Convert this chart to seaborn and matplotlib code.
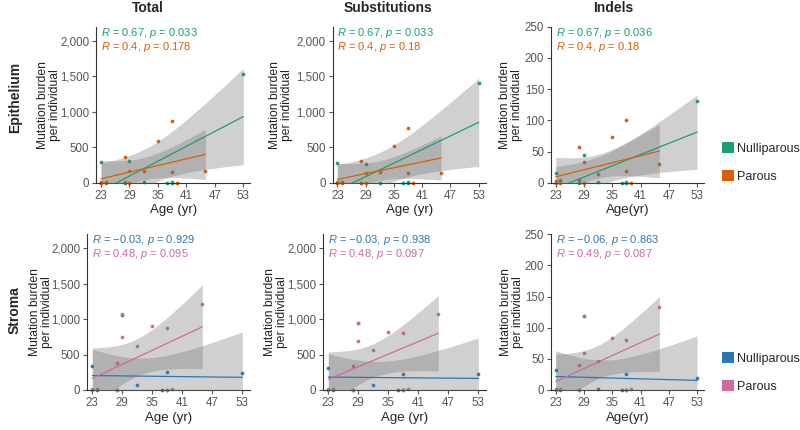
import numpy as np
import pandas as pd
import seaborn as sns
import matplotlib.pyplot as plt
from matplotlib.patches import Patch
from matplotlib.ticker import FuncFormatter
import matplotlib.transforms as mtransforms

# ---- data ----
ages_nullip = [23, 23, 24, 28, 29, 32, 37, 38, 38, 53]
ages_parous = [23, 23, 24, 28, 28, 29, 29, 32, 35, 38, 38, 39, 45]

epi_total_nullip = [295, 0, 9, 0, 310, 3, 0, 0, 16, 1531]
epi_total_parous = [8, 0, 0, 361, 4, 163, 0, 159, 592, 870, 158, 0, 160]
epi_subs_nullip = [280, 0, 5, 0, 266, 2, 0, 0, 15, 1400]
epi_subs_parous = [5, 0, 0, 304, 0, 130, 0, 145, 518, 770, 140, 0, 130]
epi_indel_nullip = [15, 0, 4, 0, 44, 1, 0, 0, 1, 131]
epi_indel_parous = [3, 0, 0, 57, 4, 33, 0, 14, 74, 100, 18, 0, 30]

str_total_nullip = [342, 0, 0, 0, 1058, 66, 0, 256, 0, 240]
str_total_parous = [9, 0, 9, 0, 380, 1068, 750, 617, 904, 881, 0, 9, 1213]
str_subs_nullip = [310, 0, 0, 0, 940, 65, 0, 230, 0, 220]
str_subs_parous = [8, 0, 8, 0, 340, 950, 690, 570, 820, 800, 0, 8, 1080]
str_indel_nullip = [32, 0, 0, 0, 118, 1, 0, 26, 0, 20]
str_indel_parous = [1, 0, 1, 0, 40, 118, 60, 47, 84, 81, 0, 1, 133]

cor_labels = [
    ["R = 0.67, p = 0.033", "R = 0.4, p = 0.178"],
    ["R = 0.67, p = 0.033", "R = 0.4, p = 0.18"],
    ["R = 0.67, p = 0.036", "R = 0.4, p = 0.18"],
    ["R = \u22120.03, p = 0.929", "R = 0.48, p = 0.095"],
    ["R = \u22120.03, p = 0.938", "R = 0.48, p = 0.097"],
    ["R = \u22120.06, p = 0.863", "R = 0.49, p = 0.087"],
]

col_titles = ["Total", "Substitutions", "Indels"]
row_titles = ["Epithelium", "Stroma"]
x_ticks = [23, 29, 35, 41, 47, 53]

epi_colors = ["#1b9e77", "#d95f02"]
str_colors = ["#2a77b5", "#cc6ba0"]

# two-sided 95% t critical values by degrees of freedom
T_CRIT = {8: 2.306, 11: 2.201}

sns.set_style("ticks")
plt.rcParams['font.family'] = ['Liberation Sans', 'DejaVu Sans']
plt.rcParams['mathtext.fontset'] = 'custom'
plt.rcParams['mathtext.rm'] = 'Liberation Sans'
plt.rcParams['mathtext.it'] = 'Liberation Sans:italic'

fig = plt.figure(figsize=(8, 4.3), dpi=100)

W, H = 800.0, 430.0
# panel boxes in pixels: left, y of zero line, width, height
boxes = [
    (96.3, 182.7, 154.1, 155.9), (332.6, 182.7, 153.2, 155.9), (551.0, 182.7, 153.1, 155.9),
    (87.3, 390.0, 162.5, 155.8), (323.3, 390.0, 162.5, 155.8), (551.0, 390.0, 153.1, 155.8),
]
ylab_x = [-0.232, -0.258, -0.18, -0.21, -0.215, -0.178]

panels = [
    (epi_total_nullip, epi_total_parous), (epi_subs_nullip, epi_subs_parous),
    (epi_indel_nullip, epi_indel_parous), (str_total_nullip, str_total_parous),
    (str_subs_nullip, str_subs_parous), (str_indel_nullip, str_indel_parous),
]


def ci_band(ax, x, y):
    x = np.asarray(x, float)
    y = np.asarray(y, float)
    n = len(x)
    b, a = np.polyfit(x, y, 1)
    resid = y - (a + b * x)
    s = np.sqrt(np.sum(resid ** 2) / (n - 2))
    sxx = np.sum((x - x.mean()) ** 2)
    grid = np.linspace(x.min(), x.max(), 100)
    se = s * np.sqrt(1 / n + (grid - x.mean()) ** 2 / sxx)
    fit = a + b * grid
    t = T_CRIT[n - 2]
    ax.fill_between(grid, fit - t * se, fit + t * se, color="#737373",
                    alpha=0.33, linewidth=0, zorder=3)


def fmt_cor(txt):
    r_part, p_part = txt.split(", ")
    return "$\\it{R}$" + r_part[1:] + ", " + "$\\it{p}$" + p_part[1:]


for i, (yn, yp) in enumerate(panels):
    left, y0, w, h = boxes[i]
    ax = fig.add_axes([left / W, (H - y0) / H, w / W, h / H])
    colors = epi_colors if i < 3 else str_colors
    groups = [(ages_nullip, yn), (ages_parous, yp)]

    for (xs, ys), c in zip(groups, colors):
        df = pd.DataFrame({"age": xs, "burden": ys})
        sns.scatterplot(data=df, x="age", y="burden", color=c, s=7,
                        linewidth=0, ax=ax, clip_on=False, zorder=2)
    for (xs, ys), c in zip(groups, colors):
        ci_band(ax, xs, ys)
        df = pd.DataFrame({"age": xs, "burden": ys})
        sns.regplot(data=df, x="age", y="burden", scatter=False, ci=None,
                    color=c, line_kws={"linewidth": 0.9, "zorder": 4}, ax=ax)

    indel = (i % 3 == 2)
    if indel:
        ax.set_ylim(0, 250)
        ax.set_yticks([0, 50, 100, 150, 200, 250])
    else:
        ax.set_ylim(0, 2200)
        ax.set_yticks([0, 500, 1000, 1500, 2000])
    ax.yaxis.set_major_formatter(FuncFormatter(lambda v, p: "{:,}".format(int(v))))
    ax.set_xlim(22, 54.5)
    ax.set_xticks(x_ticks)

    ax.set_xlabel("Age(yr)" if indel else "Age (yr)", fontsize=9.5, color="#222222", labelpad=2)
    ax.set_ylabel("Mutation burden\nper individual", fontsize=8.7, color="#222222",
                  linespacing=1.0)
    ax.yaxis.set_label_coords(ylab_x[i], 0.5)

    ax.tick_params(axis="both", labelsize=8.3, colors="#555555", length=3, width=0.8, pad=2)
    ax.tick_params(axis="both", labelcolor="#555555")
    for sp in ["left", "bottom"]:
        ax.spines[sp].set_color("#333333")
        ax.spines[sp].set_linewidth(0.8)
    sns.despine(ax=ax)

    trans = mtransforms.blended_transform_factory(ax.transData, ax.transAxes)
    ax.text(23, 0.962, fmt_cor(cor_labels[i][0]), color=colors[0], fontsize=8,
            transform=trans, ha="left", va="center")
    ax.text(23, 0.872, fmt_cor(cor_labels[i][1]), color=colors[1], fontsize=8,
            transform=trans, ha="left", va="center")

for x_px, title in zip([148, 388, 613], col_titles):
    fig.text(x_px / W, 1 - 8 / H, title, ha="center", va="center",
             fontsize=10, fontweight="bold")

for y_px, title in zip([97, 310], row_titles):
    fig.text(15 / W, 1 - y_px / H, title, ha="center", va="center",
             rotation=90, fontsize=10, fontweight="bold")

for y_px, colors in zip([142, 352], [epi_colors, str_colors]):
    handles = [Patch(facecolor=colors[0], edgecolor="none", label="Nulliparous"),
               Patch(facecolor=colors[1], edgecolor="none", label="Parous")]
    fig.legend(handles=handles, loc="upper left", bbox_to_anchor=(722 / W, 1 - y_px / H),
               frameon=False, fontsize=9, handlelength=0.95, handleheight=0.95,
               handletextpad=0.25, labelspacing=1.25, borderpad=0, borderaxespad=0)

fig.savefig("out.png", dpi=100)
